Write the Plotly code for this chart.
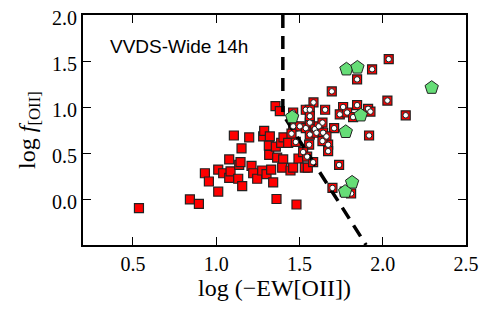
import plotly.graph_objects as go

# Plain red squares
red_x = [0.536, 0.842, 0.896, 0.932, 0.956, 1.012, 1.012, 1.042, 1.078, 1.078, 1.086, 1.106,
         1.132, 1.138, 1.146, 1.152, 1.156, 1.198, 1.212, 1.222, 1.246, 1.282, 1.288, 1.276,
         1.302, 1.322, 1.316, 1.318, 1.330, 1.342, 1.362, 1.356, 1.382, 1.358, 1.390, 1.404,
         1.366, 1.402, 1.396, 1.432, 1.446, 1.462, 1.482, 1.494, 1.532, 1.550]
red_y = [-0.10, -0.004, -0.054, 0.28, 0.19, 0.08, 0.32, 0.28, 0.43, 0.23, 0.30, 0.69,
         0.22, 0.37, 0.40, 0.55, 0.14, 0.67, 0.36, 0.28, 0.22, 0.68, 0.74, 0.31,
         0.27, 0.68, 0.58, 0.48, 0.32, 0.18, 0.00, 1.01, 0.955, 0.57, 0.61, 0.67,
         0.45, 0.43, 0.34, 0.61, 0.31, 0.34, -0.06, 0.44, 0.34, 0.34]

# Red squares with white circles
white_x = [2.036, 1.936, 1.846, 1.694, 2.028, 2.138, 1.584, 1.654, 1.538, 1.562, 1.762, 1.846,
           1.742, 1.786, 1.822, 1.912, 1.926, 1.918, 1.708, 1.738, 1.698, 1.772, 1.462, 1.462,
           1.502, 1.538, 1.562, 1.562, 1.562, 1.592, 1.616, 1.638, 1.602, 1.642, 1.662, 1.672,
           1.672, 1.638, 1.558, 1.478, 1.522, 1.546, 1.582, 1.452, 1.810]
white_y = [1.52, 1.41, 1.30, 1.17, 1.07, 0.91, 1.05, 0.97, 0.97, 0.97, 1.00, 1.02,
           0.92, 0.94, 0.89, 0.98, 0.95, 0.69, 0.77, 0.37, 0.12, 0.08, 0.94, 0.79,
           0.79, 0.77, 0.83, 0.90, 0.70, 0.76, 0.79, 0.83, 0.72, 0.72, 0.68, 0.59,
           0.52, 0.63, 0.59, 0.62, 0.51, 0.46, 0.40, 0.71, 0.06]

# Green pentagons
green_x = [1.782, 1.848, 2.294, 1.456, 1.868, 1.778, 1.816, 1.774]
green_y = [1.41, 1.43, 1.21, 0.89, 0.91, 0.73, 0.18, 0.08]

# Dashed demarcation line
line_x = [1.4, 1.4, 1.9]
line_y = [2.0, 0.92, -0.5]

fig = go.Figure()
fig.add_trace(go.Scatter(x=red_x, y=red_y, mode="markers",
                         marker=dict(symbol="square", size=9, color="#ff0000",
                                     line=dict(color="#222222", width=1.2))))
fig.add_trace(go.Scatter(x=white_x, y=white_y, mode="markers",
                         marker=dict(symbol="square", size=9, color="#ff0000",
                                     line=dict(color="#222222", width=1.2))))
fig.add_trace(go.Scatter(x=line_x, y=line_y, mode="lines",
                         line=dict(color="black", width=3.5, dash="13px,8px")))
fig.add_trace(go.Scatter(x=white_x, y=white_y, mode="markers",
                         marker=dict(symbol="circle", size=5.5, color="white",
                                     line=dict(color="#222222", width=1))))
fig.add_trace(go.Scatter(x=green_x, y=green_y, mode="markers",
                         marker=dict(symbol="pentagon", size=14, color="#66dd77",
                                     line=dict(color="#222222", width=1))))

fig.add_annotation(x=0.35, y=1.66, xref="x", yref="y", text="VVDS-Wide 14h",
                   showarrow=False, xanchor="left", yanchor="middle",
                   font=dict(family="Liberation Sans, Arial", size=19, color="black"))

axis_common = dict(showgrid=False, zeroline=False, showline=True, linecolor="black",
                   linewidth=2, mirror="ticks", ticks="inside", ticklen=8,
                   tickwidth=1, tickcolor="black", tickformat=".1f", automargin=False,
                   ticklabeloverflow="allow",
                   tickfont=dict(family="Liberation Serif, DejaVu Serif", size=20, color="black"))

fig.update_xaxes(range=[0.2, 2.5], tickvals=[0.5, 1.0, 1.5, 2.0, 2.5],
                 title=dict(text="log (−EW[OII])", standoff=2,
                            font=dict(family="Liberation Serif, DejaVu Serif", size=24, color="black")),
                 **axis_common)
fig.update_yaxes(range=[-0.5, 2.0], tickvals=[0.0, 0.5, 1.0, 1.5, 2.0], ticklabelshift=3,
                 title=dict(text="log <i>f</i><sub>[OII]</sub>", standoff=10,
                            font=dict(family="Liberation Serif, DejaVu Serif", size=24, color="black")),
                 **axis_common)

# page body has an 8px default margin; compensate so the frame sits where the reference has it
fig.update_layout(width=483, height=303, showlegend=False,
                  margin=dict(l=75, r=25, t=7, b=66),
                  paper_bgcolor="white", plot_bgcolor="white")

fig.write_html("out.html")
